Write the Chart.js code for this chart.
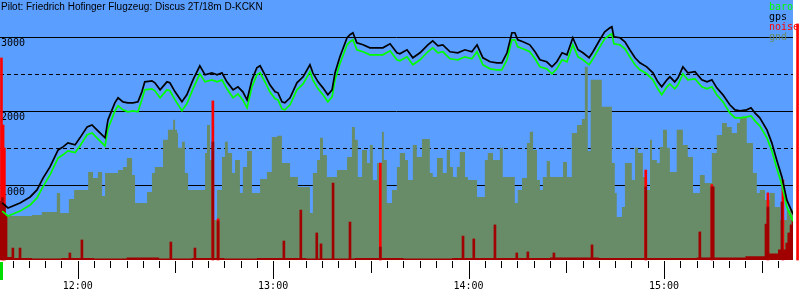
<!DOCTYPE html>
<html><head><meta charset="utf-8">
<script src="https://cdn.jsdelivr.net/npm/chart.js@4.4.1/dist/chart.umd.min.js"></script>
<style>html,body{margin:0;padding:0;background:#fff;} #wrap{width:800px;height:300px;position:relative;}</style>
</head><body>
<div id="wrap"><canvas id="c" width="800" height="300"></canvas></div>
<script>
// ---------- data ----------
const titleText = 'Pilot: Friedrich Hofinger Flugzeug: Discus 2T/18m D-KCKN';
const seriesNames = ['baro', 'gps', 'noise', 'gnd'];

// time in minutes since midnight
const trackTime = [696.8,698.6,702.3,705.4,707.5,709.4,711.5,714.0,715.5,717.0,719.2,720.7,722.9,724.4,725.9,728.4,729.3,731.4,732.4,733.9,735.4,737.0,738.5,739.7,740.6,742.8,743.7,745.3,747.4,748.3,749.9,752.0,753.5,755.4,757.5,759.1,761.2,762.8,764.3,765.8,767.7,769.2,770.7,772.0,773.5,775.0,776.0,777.5,779.0,780.6,781.5,782.7,783.6,785.2,787.3,789.2,791.3,792.2,793.8,795.3,796.8,798.1,799.0,800.5,802.7,803.6,804.5,805.7,807.6,809.7,811.9,813.7,815.9,818.0,818.9,821.1,822.9,825.1,827.5,829.0,830.6,832.1,834.3,836.7,838.9,841.0,842.6,844.4,846.6,848.7,850.2,851.8,853.3,854.2,855.1,856.7,858.8,860.4,861.9,864.0,865.6,867.1,868.7,870.2,872.0,873.6,875.1,877.0,878.2,880.3,881.8,883.4,884.0,884.6,886.5,888.0,889.5,891.1,892.6,894.7,896.6,898.1,899.3,900.9,901.8,903.3,904.3,905.8,907.3,909.5,911.6,913.2,914.7,916.2,918.1,920.2,921.8,923.3,925.4,926.7,927.9,929.4,931.6,933.1,934.6,936.2,937.7,939.3,940.2];
const gpsAlt = [770,703,770,851,946,1108,1257,1486,1527,1581,1554,1649,1797,1824,1757,1649,1892,2122,2189,2135,2122,2122,2135,2270,2405,2419,2392,2297,2405,2392,2270,2135,2230,2432,2622,2500,2527,2500,2527,2405,2297,2338,2270,2162,2432,2595,2622,2500,2365,2270,2257,2135,2122,2189,2392,2473,2635,2527,2405,2324,2230,2297,2527,2743,3000,3041,3068,2932,2905,2865,2865,2865,2919,2797,2784,2838,2730,2797,2905,2959,2892,2905,2811,2797,2838,2811,2905,2730,2676,2662,2662,2797,3068,3068,2973,2946,2905,2811,2703,2676,2608,2676,2797,2770,3000,2838,2797,2730,2811,2973,3081,3135,3149,3014,3000,2946,2838,2730,2662,2608,2527,2405,2338,2432,2473,2405,2459,2608,2527,2541,2432,2405,2432,2324,2230,2095,2027,2014,2027,2054,1986,1919,1757,1581,1351,1122,811,649,581];
const baroAlt = [660,595,660,742,838,995,1148,1378,1420,1473,1450,1540,1690,1716,1648,1540,1770,2010,2081,2027,2000,2014,2000,2162,2297,2311,2284,2189,2297,2284,2162,2014,2108,2311,2514,2405,2432,2405,2432,2311,2189,2243,2162,2054,2338,2500,2527,2405,2270,2176,2162,2040,2027,2095,2297,2378,2541,2432,2311,2230,2135,2203,2432,2649,2905,2946,2973,2838,2811,2770,2770,2770,2824,2703,2689,2743,2635,2703,2811,2865,2797,2811,2716,2703,2743,2716,2811,2635,2581,2568,2568,2703,2973,2973,2878,2851,2811,2716,2608,2581,2514,2581,2703,2676,2905,2743,2703,2635,2716,2878,2986,3041,3054,2919,2905,2851,2743,2635,2568,2514,2432,2311,2230,2338,2378,2311,2365,2514,2432,2446,2338,2311,2338,2230,2135,1986,1919,1919,1932,1946,1878,1811,1649,1473,1243,1014,716,554,486];

const gndTime = [698.0,706.0,709.0,713.6,714.6,717.3,718.9,723.2,724.7,726.2,727.5,728.4,732.4,733.9,735.1,736.7,737.6,741.3,742.8,743.7,746.2,747.7,749.3,749.9,750.5,750.8,752.0,752.9,753.9,759.1,759.7,760.6,761.5,762.8,764.3,765.2,766.1,767.4,768.3,769.8,770.7,772.0,773.5,776.0,778.1,779.6,781.2,782.7,785.2,787.6,791.3,792.2,793.5,794.4,795.3,796.5,799.6,802.7,804.2,805.1,806.0,807.3,808.8,809.7,810.6,811.9,813.4,814.0,814.9,816.5,818.0,818.9,820.5,821.4,822.9,824.1,825.7,828.1,829.0,830.3,832.1,833.3,834.3,835.2,836.4,837.3,838.9,839.8,842.6,845.0,845.9,847.5,849.6,850.5,854.2,855.1,856.4,857.9,858.8,859.8,861.0,861.9,862.8,864.0,865.0,869.0,870.2,871.7,873.3,874.8,875.7,876.6,877.5,880.9,884.0,884.9,885.5,887.1,888.0,890.1,891.1,892.0,893.5,894.7,895.7,896.3,897.8,898.7,899.7,900.9,901.8,903.9,905.8,907.3,908.9,911.0,912.5,914.7,916.2,917.8,919.3,920.8,922.4,923.3,925.4,927.3,928.5,929.4,931.0,932.5,934.0,935.6,937.7,939.3,940.8];
const gndAlt = [500,595,608,649,905,635,824,946,1189,1108,1189,865,1176,1216,1257,1378,1149,770,919,1176,1257,1622,1757,1892,1757,1716,1514,1595,1176,946,1446,1824,1351,541,946,1392,1595,1446,1176,1351,905,1257,1473,905,1095,1189,1662,1676,1311,1122,987,635,1176,1351,1649,1419,1122,1216,1392,1797,1622,1122,1486,1311,1554,1081,1311,1730,1351,770,946,1257,1446,1351,1081,1554,1392,1635,1176,1122,1378,1176,1486,1257,1122,1257,1459,1122,1081,851,1351,1446,1351,1514,1122,770,946,1108,1581,1730,1486,1081,946,1122,1338,1122,1324,1122,1716,1824,1905,2608,1473,2432,2068,1311,905,581,716,1311,1081,1514,1446,1122,946,1622,1351,1311,1527,1757,1514,1189,1757,1554,1392,905,1149,1041,1446,1689,1851,1797,1716,1851,1932,1581,1176,905,946,811,905,716,541,676,676];

// engine noise level (0..1000)
const noiseTime = [696.3,696.9,697.5,698.0,700.1,702.3,717.6,721.3,748.6,756.0,761.5,763.1,783.3,788.5,793.4,794.7,798.4,803.6,812.9,838.3,841.6,848.1,854.8,858.2,866.2,877.9,894.4,911.0,914.7,915.1,931.3,931.9,936.2,937.7,938.3,939.0,939.6];
const noiseLevel = [226,240,215,170,46,46,27,77,69,46,454,150,73,192,104,62,296,146,50,92,81,135,27,31,27,58,281,108,281,281,138,204,223,65,104,135,154];
const noisePeakTime = [696.6,697.1,697.5,761.5,763.1,812.9,894.4,914.7,931.9,936.5,941.0];
const noisePeakLevel = [777,519,431,612,158,373,346,290,258,308,908];
const noiseFloorTime = [696.2,700,706,715,725,735,745,755,765,775,790,805,820,835,850,865,880,895,910,925,932,935,937,939.6];
const noiseFloorLevel = [10,12,8,6,8,6,10,6,8,6,8,6,8,6,8,8,10,8,8,10,14,25,40,40];

// axes
const hourTicks = [720, 780, 840, 900];
const hourLabels = ['12:00', '13:00', '14:00', '15:00'];
const altSolidTicks = [1000, 2000, 3000];
const altSolidLabels = ['1000', '2000', '3000'];
const altDashTicks = [500, 1500, 2500];
const timeMin = 696.15, timeMax = 939.6, altMax = 3510, noiseMax = 1000;
const minorTickStep = 5;

// ---------- styles ----------
const BLUE = 'rgb(90,158,255)';
const GND = '#688c68';
const DARKRED = '#a00000';
const RED = '#ff0000';
const GREEN = '#00ff00';
const seriesColors = [GREEN, '#000000', RED, GND];

const pts = (xs, ys) => xs.map((x, i) => ({x: x, y: ys[i]}));

const overlay = {
  id: 'overlay',
  beforeDraw(chart) {
    const {ctx, chartArea: a} = chart;
    ctx.save();
    ctx.fillStyle = BLUE;
    ctx.fillRect(a.left, a.top, a.right - a.left, a.bottom - a.top);
    ctx.restore();
  },
  afterDraw(chart) {
    const {ctx, chartArea: a, scales} = chart;
    const x = scales.x;
    ctx.save();
    ctx.strokeStyle = '#000';
    ctx.lineWidth = 1;
    for (let v = Math.ceil(timeMin / minorTickStep) * minorTickStep; v <= timeMax; v += minorTickStep) {
      const px = Math.round(x.getPixelForValue(v)) + 0.5;
      const len = (v % 60 === 0) ? 18 : ((v % 30 === 0) ? 12 : 7);
      ctx.beginPath();
      ctx.moveTo(px, a.bottom + 1);
      ctx.lineTo(px, a.bottom + 1 + len);
      ctx.stroke();
    }
    // start marker
    ctx.fillStyle = '#00dd00';
    ctx.fillRect(x.getPixelForValue(timeMin), a.bottom + 2, 3, 18);
    // title
    ctx.fillStyle = '#000';
    ctx.font = '10px "Liberation Sans"';
    ctx.textAlign = 'left';
    ctx.textBaseline = 'alphabetic';
    ctx.fillText(titleText, 1, 9.5);
    // legend
    ctx.font = '10px "DejaVu Sans Mono"';
    seriesNames.forEach((n, i) => {
      ctx.fillStyle = seriesColors[i];
      ctx.fillText(n, a.right - 24, 10 + 10 * i);
    });
    ctx.restore();
  }
};

const monoFont = {family: '"DejaVu Sans Mono"', size: 10};
const flatFit = s => { s.width = 0; s.paddingTop = 0; s.paddingBottom = 0; s.paddingLeft = 0; s.paddingRight = 0; };

new Chart(document.getElementById('c'), {
  type: 'line',
  data: {
    datasets: [
      {type: 'line', label: 'gps', data: pts(trackTime, gpsAlt), borderColor: '#000', borderWidth: 1.7,
       pointRadius: 0, tension: 0, fill: false, order: 1, yAxisID: 'y'},
      {type: 'line', label: 'baro', data: pts(trackTime, baroAlt), borderColor: GREEN, borderWidth: 1.7,
       pointRadius: 0, tension: 0, fill: false, order: 2, yAxisID: 'y'},
      {type: 'bar', label: 'noise', data: pts(noiseTime, noiseLevel), backgroundColor: DARKRED,
       barThickness: 2, grouped: false, order: 3, yAxisID: 'yN'},
      {type: 'line', label: 'noise floor', data: pts(noiseFloorTime, noiseFloorLevel), borderWidth: 0,
       backgroundColor: DARKRED, fill: 'origin', stepped: 'after', pointRadius: 0, order: 3, yAxisID: 'yN'},
      {type: 'bar', label: 'noise peak', data: pts(noisePeakTime, noisePeakLevel), backgroundColor: RED,
       barThickness: 2, grouped: false, order: 4, yAxisID: 'yN', clip: false},
      {type: 'line', label: 'gnd', data: pts(gndTime, gndAlt), borderWidth: 0, backgroundColor: GND,
       fill: 'origin', stepped: 'after', pointRadius: 0, order: 5, yAxisID: 'y'}
    ]
  },
  options: {
    responsive: false,
    animation: false,
    devicePixelRatio: 1,
    layout: {padding: {left: 0, right: 7, top: 0, bottom: 0}},
    plugins: {legend: {display: false}, tooltip: {enabled: false}, title: {display: false}},
    scales: {
      x: {
        type: 'linear', min: timeMin, max: timeMax, offset: false, position: 'bottom',
        afterFit: s => { s.height = 40; s.paddingLeft = 0; s.paddingRight = 0; },
        afterBuildTicks: s => { s.ticks = hourTicks.map(v => ({value: v})); },
        grid: {display: false, drawTicks: false},
        border: {display: false},
        ticks: {autoSkip: false, maxRotation: 0, padding: 20, font: monoFont, color: '#000',
                callback: v => { const i = hourTicks.indexOf(v); return i >= 0 ? hourLabels[i] : ''; }}
      },
      y: {
        type: 'linear', min: 0, max: altMax, position: 'left', z: 1,
        afterFit: flatFit,
        afterBuildTicks: s => { s.ticks = altSolidTicks.map(v => ({value: v})); },
        grid: {color: '#000', lineWidth: 1, drawTicks: false},
        border: {display: false},
        ticks: {mirror: true, padding: 1, labelOffset: 6, font: monoFont, color: '#000',
                callback: v => { const i = altSolidTicks.indexOf(v); return i >= 0 ? altSolidLabels[i] : ''; }}
      },
      yDash: {
        type: 'linear', min: 0, max: altMax, position: 'left', z: 1,
        afterFit: flatFit,
        afterBuildTicks: s => { s.ticks = altDashTicks.map(v => ({value: v})); },
        grid: {color: '#000', lineWidth: 1, drawTicks: false},
        border: {display: false, dash: [4, 3]},
        ticks: {display: false}
      },
      yN: {type: 'linear', min: 0, max: noiseMax, display: false}
    }
  },
  plugins: [overlay]
});
</script>
</body></html>
